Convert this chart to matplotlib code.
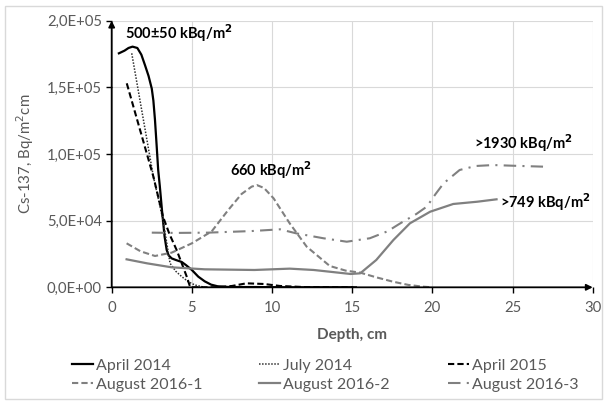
import numpy as np
import matplotlib
matplotlib.use('Agg')
import matplotlib.pyplot as plt
from matplotlib.patches import Rectangle

plt.rcParams['font.family'] = ['Lato', 'DejaVu Sans']

# depth (cm) and Cs-137 (Bq/m2cm)
apr14_x = [0.45, 0.8, 1.05, 1.3, 1.6, 1.85, 2.08, 2.3, 2.5, 2.6, 2.7, 2.8, 2.9, 3.0, 3.15, 3.3, 3.43, 3.55, 3.74, 4.0, 4.37, 4.65, 5.0, 5.4, 5.8, 6.2, 6.6, 7.2, 8.0, 9.0, 11.0, 13.0, 15.0]
apr14_y = [1.755e5, 1.775e5, 1.795e5, 1.805e5, 1.795e5, 1.745e5, 1.665e5, 1.585e5, 1.49e5, 1.40e5, 1.255e5, 1.07e5, 0.88e5, 0.76e5, 0.56e5, 0.38e5, 0.28e5, 0.24e5, 0.217e5, 0.205e5, 0.19e5, 0.165e5, 0.13e5, 0.08e5, 0.045e5, 0.02e5, 0.008e5, 0.003e5, 0.002e5, 0.002e5, 0.0, 0.0, 0.0]

jul14_x = [1.25, 2.6, 3.2, 3.64, 4.0, 4.37, 4.8, 5.2, 5.8]
jul14_y = [1.755e5, 0.83e5, 0.505e5, 0.18e5, 0.12e5, 0.08e5, 0.04e5, 0.017e5, 0.0]

apr15_x = [0.94, 2.6, 2.7, 3.2, 3.6, 4.05, 4.4, 4.68, 4.9, 5.5, 6.5, 7.5, 8.4, 9.5, 10.5, 12.0, 14.0, 15.3]
apr15_y = [1.53e5, 0.83e5, 0.78e5, 0.53e5, 0.4e5, 0.28e5, 0.17e5, 0.08e5, 0.0, 0.0, 0.0, 0.01e5, 0.03e5, 0.025e5, 0.01e5, 0.002e5, 0.0, 0.0]

aug1_x = [0.93, 1.8, 2.7, 3.74, 5.0, 6.24, 7.27, 8.1, 8.73, 9.05, 9.5, 10.1, 11.1, 12.16, 13.6, 14.6, 15.5, 16.5, 17.55, 18.5, 19.4, 20.0]
aug1_y = [0.33e5, 0.27e5, 0.235e5, 0.26e5, 0.33e5, 0.42e5, 0.58e5, 0.7e5, 0.755e5, 0.767e5, 0.745e5, 0.667e5, 0.48e5, 0.305e5, 0.16e5, 0.125e5, 0.11e5, 0.075e5, 0.042e5, 0.018e5, 0.005e5, 0.0]

aug2_x = [0.93, 2.2, 3.74, 5.8, 8.9, 11.1, 12.6, 14.9, 15.5, 16.5, 17.57, 18.6, 19.86, 21.3, 22.8, 24.0]
aug2_y = [0.21e5, 0.18e5, 0.15e5, 0.135e5, 0.13e5, 0.14e5, 0.13e5, 0.1e5, 0.105e5, 0.205e5, 0.355e5, 0.48e5, 0.567e5, 0.625e5, 0.642e5, 0.66e5]

aug3_x = [2.5, 4.0, 6.0, 8.73, 10.5, 11.5, 13.2, 14.66, 16.1, 17.2, 18.0, 19.0, 19.65, 20.2, 20.7, 21.7, 22.7, 23.8, 25.0, 26.9]
aug3_y = [0.41e5, 0.408e5, 0.41e5, 0.422e5, 0.435e5, 0.405e5, 0.368e5, 0.342e5, 0.368e5, 0.42e5, 0.48e5, 0.55e5, 0.605e5, 0.7e5, 0.78e5, 0.88e5, 0.91e5, 0.917e5, 0.912e5, 0.905e5]

labels = ['April 2014', 'July 2014', 'April 2015', 'August 2016-1', 'August 2016-2', 'August 2016-3']
y_ticks = [0, 5e4, 1e5, 1.5e5, 2e5]
y_ticklabels = ['0,0E+00', '5,0E+04', '1,0E+05', '1,5E+05', '2,0E+05']
x_ticks = [0, 5, 10, 15, 20, 25, 30]

txt = '#595959'
grey = '#808080'

fig = plt.figure(figsize=(6.07, 4.01), dpi=100)
ax = fig.add_axes([0.184, 0.2835, 0.7925, 0.665])

l1, = ax.plot(apr14_x, apr14_y, color='black', lw=1.6)
l2, = ax.plot(jul14_x, jul14_y, color='#303030', lw=1.1, ls=(0, (1, 1)))
l3, = ax.plot(apr15_x, apr15_y, color='black', lw=1.5, ls=(0, (3, 1.5)))
l4, = ax.plot(aug1_x, aug1_y, color=grey, lw=1.5, ls=(0, (3, 1.5)))
l5, = ax.plot(aug2_x, aug2_y, color=grey, lw=1.6)
l6, = ax.plot(aug3_x, aug3_y, color=grey, lw=1.5, ls=(0, (6, 3, 1, 3)))

ax.set_xlim(0, 30)
ax.set_ylim(0, 2e5)
ax.set_xticks(x_ticks)
ax.set_yticks(y_ticks)
ax.set_yticklabels(y_ticklabels)
ax.grid(True, color='#d9d9d9', lw=0.8)
ax.set_axisbelow(True)
for s in ax.spines.values():
    s.set_visible(False)
ax.tick_params(colors=txt, labelsize=10.7, length=4, width=1)
ax.tick_params(axis='both', color='black')
ax.tick_params(axis='x', pad=6)
ax.tick_params(axis='y', pad=3)

# axes with arrow heads
ax.annotate('', xy=(0, 1.0), xytext=(0, 0), xycoords='axes fraction',
            arrowprops=dict(arrowstyle='-|>', color='black', lw=1.3, mutation_scale=9, shrinkA=0, shrinkB=0))
ax.annotate('', xy=(1.0, 0), xytext=(0, 0), xycoords='axes fraction',
            arrowprops=dict(arrowstyle='-|>', color='black', lw=1.3, mutation_scale=9, shrinkA=0, shrinkB=0))

ax.set_xlabel('Depth, cm', color=txt, fontsize=11, fontweight='bold', labelpad=9)
ax.set_ylabel('Cs-137, Bq/m$^2$cm', color=txt, fontsize=10.8, labelpad=8)

ax.text(0.85, 1.91e5, '500±50 kBq/m$^\\mathbf{2}$', fontsize=10.5, fontweight='bold', va='center')
ax.text(7.35, 0.88e5, '660 kBq/m$^\\mathbf{2}$', fontsize=10.5, fontweight='bold', va='center')
ax.text(22.6, 1.08e5, '>1930 kBq/m$^\\mathbf{2}$', fontsize=10.5, fontweight='bold', va='center')
ax.text(24.2, 0.64e5, '>749 kBq/m$^\\mathbf{2}$', fontsize=10.5, fontweight='bold', va='center')

# one legend per column, placed like the reference
columns = [([l1, l4], [labels[0], labels[3]], 0.1186),
           ([l2, l5], [labels[1], labels[4]], 0.4267),
           ([l3, l6], [labels[2], labels[5]], 0.738)]
for hs, ns, x0 in columns:
    leg = fig.legend(hs, ns, loc='upper left', bbox_to_anchor=(x0, 0.106), frameon=False,
                     fontsize=11.5, handlelength=1.3, handletextpad=0.2,
                     labelspacing=0.3, borderaxespad=0, borderpad=0)
    for t in leg.get_texts():
        t.set_color(txt)

fig.patches.append(Rectangle((0.008, 0.005), 0.984, 0.98, transform=fig.transFigure,
                             fill=False, edgecolor='#d9d9d9', lw=1))

fig.savefig('out.png', dpi=100)
